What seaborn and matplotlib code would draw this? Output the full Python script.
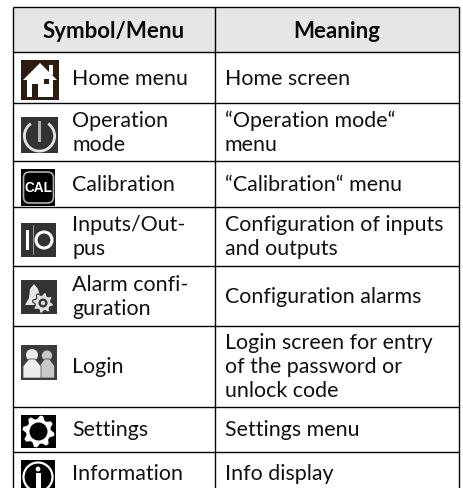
import numpy as np
import matplotlib
matplotlib.use("Agg")
import matplotlib.pyplot as plt
from matplotlib.colors import ListedColormap
from matplotlib.patches import Rectangle, FancyBboxPatch, Circle, Polygon, Wedge
import seaborn as sns

# table content
headers = ["Symbol/Menu", "Meaning"]
symbols = ["Home menu", "Operation\nmode", "Calibration", "Inputs/Out-\npus",
           "Alarm confi-\nguration", "Login", "Settings", "Information"]
meanings = ["Home screen", "\u201cOperation mode\u201c\nmenu", "\u201cCalibration\u201c menu",
            "Configuration of inputs\nand outputs", "Configuration alarms",
            "Login screen for entry\nof the password or\nunlock code",
            "Settings menu", "Info display"]

W, H = 463, 489
X_L, X_M, X_R = 13, 215, 459
Y_TOP, Y_HEAD = 8, 53
ROW_LINES = [104, 162, 208, 267, 327, 408, 453]
ROW_MID = [79, 133, 185, 237, 297, 367, 430, 474]
FS = 15.4
LINE = "#050505"

sns.set_theme(style="white")
plt.rcParams["font.family"] = ["Lato", "DejaVu Sans"]

fig = plt.figure(figsize=(W / 100, H / 100), dpi=100, facecolor="white")
ax = fig.add_axes([0, 0, 1, 1])
ax.set_xlim(0, W)
ax.set_ylim(H, 0)
ax.axis("off")

# header band
hax = fig.add_axes([X_L / W, 1 - Y_HEAD / H, (X_R - X_L) / W, (Y_HEAD - Y_TOP) / H])
sns.heatmap(np.zeros((1, 1)), ax=hax, cmap=ListedColormap(["#e6e6e6"]), cbar=False,
            xticklabels=False, yticklabels=False)
hax.axis("off")
hax.patch.set_alpha(0)

ax2 = fig.add_axes([0, 0, 1, 1], sharex=ax, sharey=ax)
ax2.axis("off")
ax2.patch.set_alpha(0)

# grid
ax2.hlines([Y_TOP, Y_HEAD] + ROW_LINES, X_L, X_R, color=LINE, lw=1.0)
ax2.vlines([X_L, X_M, X_R], Y_TOP, H, color=LINE, lw=1.0)

ax2.text((X_L + X_M) / 2, 31, headers[0], ha="center", va="center", fontsize=16, fontweight="bold", color="#0a0a0a")
ax2.text((X_M + X_R) / 2, 31, headers[1], ha="center", va="center", fontsize=16, fontweight="bold", color="#0a0a0a")

for sym, mean, y in zip(symbols, meanings, ROW_MID):
    ax2.text(72, y, sym, ha="left", va="center", fontsize=FS, color="#111111", linespacing=1.22)
    ax2.text(225, y, mean, ha="left", va="center", fontsize=FS, color="#111111", linespacing=1.22)


def gear(cx, cy, r_out, r_in, teeth=8):
    ang = np.linspace(0, 2 * np.pi, teeth * 4, endpoint=False) + np.pi / (teeth * 4)
    rad = np.tile([r_out, r_out, r_in, r_in], teeth)
    return np.column_stack([cx + rad * np.cos(ang), cy + rad * np.sin(ang)])


def box(x0, y0, x1, y1, color):
    ax2.add_patch(Rectangle((x0, y0), x1 - x0, y1 - y0, fc=color, ec="none"))


# home
box(21, 61, 59, 101, "#2e1a0e")
ax2.add_patch(Polygon([[23, 81], [40, 64], [57, 81]], fc="white", ec="none"))
ax2.add_patch(Rectangle((49, 66), 4, 10, fc="white", ec="none"))
ax2.add_patch(Rectangle((27, 80), 26, 18, fc="white", ec="none"))
ax2.add_patch(Rectangle((32, 85), 6, 14, fc="#2e1a0e", ec="none"))
ax2.add_patch(Rectangle((44, 80), 5, 5, fc="#2e1a0e", ec="none"))

# power
box(21, 118, 58, 154, "#333333")
ax2.add_patch(Wedge((39.5, 137), 16.5, -55, 235, width=2.8, fc="#e4e4e4", ec="none"))
ax2.add_patch(Rectangle((38, 122), 3, 21, fc="#b5b5b5", ec="none"))

# calibration
box(21, 170, 55, 207, "black")
ax2.add_patch(FancyBboxPatch((23.5, 173), 30, 31, boxstyle="round,pad=0,rounding_size=6",
                             fc="black", ec="#b0b0b0", lw=1.2))
ax2.text(38.5, 188.5, "CAL", ha="center", va="center", fontsize=9.8, fontweight="bold", color="white",
         family="Liberation Sans")

# inputs / outputs
box(21, 224, 56, 258, "#333333")
ax2.add_patch(Rectangle((26, 231), 3, 20, fc="white", ec="none"))
ax2.add_patch(Rectangle((32.5, 226), 1.2, 30, fc="#999999", ec="none"))
ax2.add_patch(Circle((44, 241), 8, fc="none", ec="white", lw=2.2))

# alarm configuration
box(21, 281, 57, 315, "#333333")
ax2.add_patch(Polygon([[25, 306], [29, 299], [30, 290], [34, 285], [38, 290], [40, 297], [44, 306]],
                      fc="#e8e8e8", ec="none"))
ax2.add_patch(Polygon(gear(43, 304, 10.5, 8), fc="#e0e0e0", ec="#333333", lw=0.8))
ax2.add_patch(Circle((43, 304), 4.5, fc="#333333", ec="none"))
ax2.add_patch(Circle((43, 304), 2.2, fc="#e0e0e0", ec="none"))

# login
box(21, 346, 57, 381, "#3c3c3c")
for cx, sc, col in [(47, 0.85, "#c8c8c8"), (32, 1.0, "#ededed")]:
    ax2.add_patch(Circle((cx, 356 + (1 - sc) * 4), 6 * sc, fc=col, ec="none"))
    ax2.add_patch(Polygon([[cx - 3 * sc, 360], [cx + 3 * sc, 360], [cx + 9 * sc, 367],
                           [cx + 9 * sc, 379], [cx - 9 * sc, 379], [cx - 9 * sc, 367]], fc=col, ec="#3c3c3c", lw=0.5))

# settings
box(21, 416, 56, 449, "black")
ax2.add_patch(Polygon(gear(38.5, 432.5, 16, 12.5), fc="white", ec="none"))
ax2.add_patch(Circle((38.5, 432.5), 9, fc="black", ec="none"))

# information
box(21, 461, 55, H, "black")
ax2.add_patch(Circle((38, 478), 14.5, fc="black", ec="white", lw=1.6, clip_on=True))
ax2.add_patch(Circle((38, 470), 2.4, fc="white", ec="none"))
ax2.add_patch(Rectangle((35.5, 474), 5, 15, fc="white", ec="none"))

fig.savefig("out.png", dpi=100)
